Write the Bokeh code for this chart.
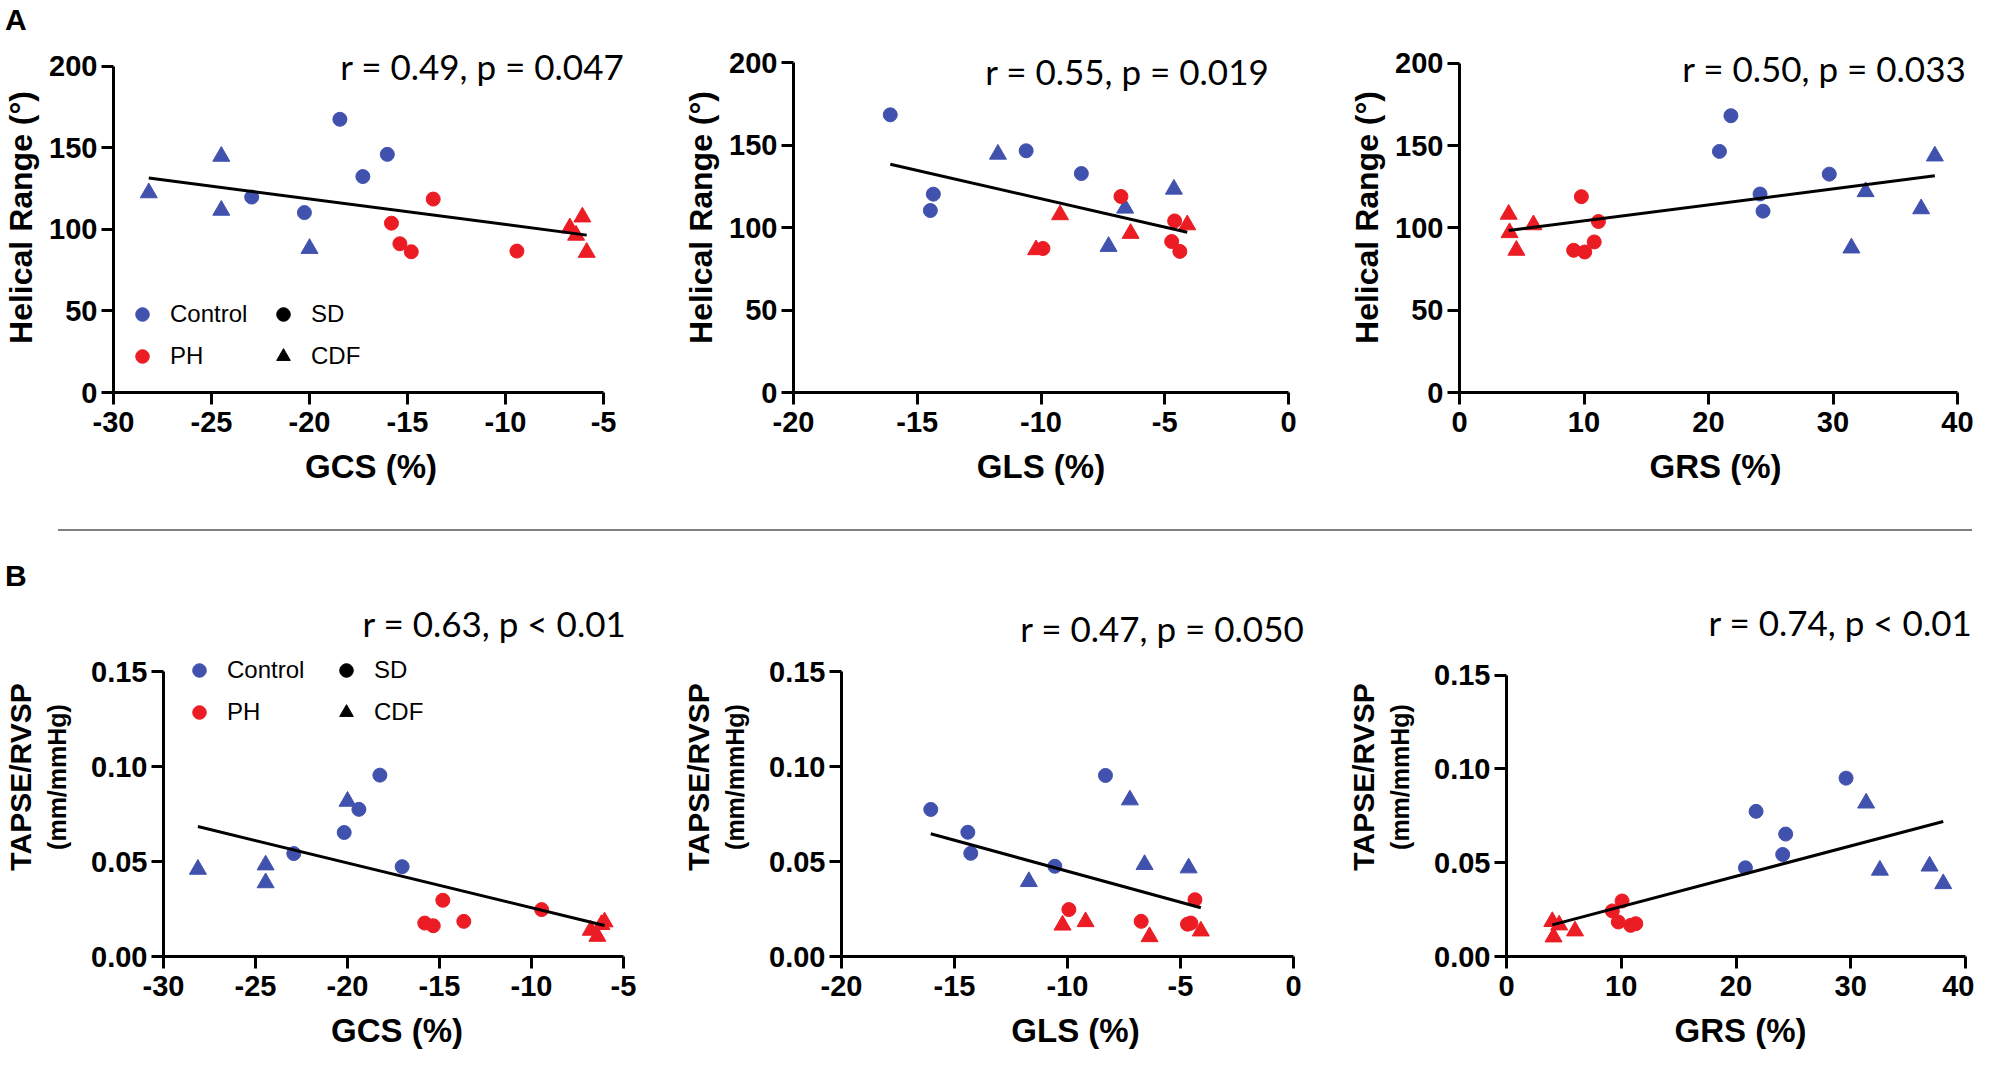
import numpy as np
from bokeh.plotting import figure
from bokeh.models import (Range1d, FixedTicker, Label, Legend, LegendItem, LinearAxis, Div)
from bokeh.layouts import column, row
from bokeh.embed import file_html
from bokeh.resources import INLINE

BLUE = "#4152AE"
RED = "#EC1C24"
AX_FONT = "Liberation Sans"
STAT_FONT = "Lato"

# ---------------- data ----------------
# Panel A1: GCS (%) vs Helical Range
gcs_hr_ctrl_sd_x = [-22.95, -20.26, -18.45, -17.28, -16.03]
gcs_hr_ctrl_sd_y = [119.8, 110.3, 167.5, 132.4, 146.0]
gcs_hr_ctrl_cdf_x = [-28.2, -24.5, -24.5, -20.0]
gcs_hr_ctrl_cdf_y = [122.4, 144.8, 111.7, 88.3]
gcs_hr_ph_sd_x = [-15.82, -15.39, -14.81, -13.69, -9.42]
gcs_hr_ph_sd_y = [103.8, 91.2, 86.3, 118.6, 86.7]
gcs_hr_ph_cdf_x = [-6.72, -6.08, -6.40, -5.86]
gcs_hr_ph_cdf_y = [100.9, 107.6, 96.4, 85.9]

# Panel A2: GLS (%) vs Helical Range
gls_hr_ctrl_sd_x = [-16.09, -14.35, -14.47, -10.60, -8.37]
gls_hr_ctrl_sd_y = [168.3, 120.2, 110.3, 146.5, 132.7]
gls_hr_ctrl_cdf_x = [-11.74, -6.60, -7.27, -4.63]
gls_hr_ctrl_cdf_y = [144.4, 111.7, 88.5, 123.2]
gls_hr_ph_sd_x = [-6.77, -9.92, -4.60, -4.72, -4.39]
gls_hr_ph_sd_y = [118.8, 87.3, 104.0, 91.5, 85.5]
gls_hr_ph_cdf_x = [-9.23, -6.38, -4.09, -10.20]
gls_hr_ph_cdf_y = [107.7, 96.4, 101.6, 86.5]

# Panel A3: GRS (%) vs Helical Range
grs_hr_ctrl_sd_x = [20.88, 21.80, 24.14, 24.38, 29.70]
grs_hr_ctrl_sd_y = [146.5, 168.2, 120.6, 110.2, 132.7]
grs_hr_ctrl_cdf_x = [31.48, 32.62, 37.08, 38.18]
grs_hr_ctrl_cdf_y = [87.8, 122.0, 111.6, 143.7]
grs_hr_ph_sd_x = [9.79, 9.17, 10.06, 10.82, 11.16]
grs_hr_ph_sd_y = [119.0, 86.4, 85.4, 91.5, 103.9]
grs_hr_ph_cdf_x = [3.95, 4.02, 4.57, 5.94]
grs_hr_ph_cdf_y = [108.3, 97.1, 86.4, 101.9]

# Panel B1: GCS (%) vs TAPSE/RVSP
gcs_tr_ctrl_sd_x = [-22.92, -20.18, -19.38, -18.24, -17.03]
gcs_tr_ctrl_sd_y = [0.0542, 0.0653, 0.0775, 0.0955, 0.0473]
gcs_tr_ctrl_cdf_x = [-28.13, -24.45, -24.45, -20.0]
gcs_tr_ctrl_cdf_y = [0.0459, 0.0482, 0.0388, 0.0817]
gcs_tr_ph_sd_x = [-14.82, -15.80, -15.34, -13.68, -9.45]
gcs_tr_ph_sd_y = [0.0296, 0.0176, 0.0162, 0.0185, 0.0247]
gcs_tr_ph_cdf_x = [-6.78, -6.42, -6.03, -6.20]
gcs_tr_ph_cdf_y = [0.0138, 0.0106, 0.0182, 0.0168]

# Panel B2: GLS (%) vs TAPSE/RVSP
gls_tr_ctrl_sd_x = [-16.05, -14.41, -14.28, -10.56, -8.32]
gls_tr_ctrl_sd_y = [0.0774, 0.0654, 0.0543, 0.0475, 0.0953]
gls_tr_ctrl_cdf_x = [-11.71, -7.24, -6.59, -4.64]
gls_tr_ctrl_cdf_y = [0.0394, 0.0824, 0.0484, 0.0466]
gls_tr_ph_sd_x = [-9.94, -6.74, -4.36, -4.69, -4.54]
gls_tr_ph_sd_y = [0.0247, 0.0185, 0.0299, 0.0170, 0.0176]
gls_tr_ph_cdf_x = [-10.22, -9.20, -6.37, -4.10]
gls_tr_ph_cdf_y = [0.0165, 0.0183, 0.0104, 0.0134]

# Panel B3: GRS (%) vs TAPSE/RVSP
grs_tr_ctrl_sd_x = [20.82, 21.75, 24.07, 24.33, 29.59]
grs_tr_ctrl_sd_y = [0.0473, 0.0774, 0.0544, 0.0653, 0.0951]
grs_tr_ctrl_cdf_x = [31.34, 32.54, 36.87, 38.06]
grs_tr_ctrl_cdf_y = [0.0818, 0.0460, 0.0482, 0.0388]
grs_tr_ph_sd_x = [9.22, 10.07, 9.74, 10.82, 11.27]
grs_tr_ph_sd_y = [0.0243, 0.0296, 0.0184, 0.0166, 0.0175]
grs_tr_ph_cdf_x = [3.99, 4.10, 4.59, 5.97]
grs_tr_ph_cdf_y = [0.0186, 0.0104, 0.0168, 0.0136]

stats = ["r = 0.49, p = 0.047", "r = 0.55, p = 0.019", "r = 0.50, p = 0.033",
         "r = 0.63, p < 0.01", "r = 0.47, p = 0.050", "r = 0.74, p < 0.01"]
x_titles = ["GCS (%)", "GLS (%)", "GRS (%)"]
x_ticks = [[-30, -25, -20, -15, -10, -5], [-20, -15, -10, -5, 0], [0, 10, 20, 30, 40]]
x_tick_labels = [["-30", "-25", "-20", "-15", "-10", "-5"], ["-20", "-15", "-10", "-5", "0"],
                 ["0", "10", "20", "30", "40"]]
hr_ticks = [0, 50, 100, 150, 200]
hr_tick_labels = ["0", "50", "100", "150", "200"]
tr_ticks = [0.0, 0.05, 0.10, 0.15]
tr_tick_labels = ["0.00", "0.05", "0.10", "0.15"]
legend_groups = ["Control", "PH"]
legend_shapes = ["SD", "CDF"]
panel_letters = ["A", "B"]


def lin(v0, v1, p0, p1, q):
    """value at pixel q when v0 sits at pixel p0 and v1 at pixel p1"""
    return v0 + (q - p0) * (v1 - v0) / (p1 - p0)


def make_panel(fig_x0, fig_y0, fig_w, fig_h, axes_box, xt, xtl, yt, ytl, xtitle,
               groups, stat, stat_anchor, ytitle, ytitle2=None, legend_at=None):
    al, at, ar, ab = axes_box           # page pixels of the axis ends
    sx, sy = stat_anchor
    fl, ft, fb = al, fig_y0, ab          # frame: extend up to fig top
    fr = min(max(ar, sx + 5), fig_x0 + fig_w)   # and right to hold the r/p text
    xr = (xt[0], lin(xt[0], xt[-1], al, ar, fr))
    yr = (yt[0], lin(yt[0], yt[-1], ab, at, ft))
    p = figure(width=fig_w, height=fig_h,
               min_border_left=fl - fig_x0, min_border_right=fig_x0 + fig_w - fr,
               min_border_top=ft - fig_y0, min_border_bottom=fig_y0 + fig_h - fb,
               x_range=Range1d(*xr), y_range=Range1d(*yr),
               output_backend="svg", toolbar_location=None)
    p.grid.visible = False
    p.outline_line_color = None

    for ax in (p.xaxis[0], p.yaxis[0]):
        ax.axis_line_width = 3
        ax.axis_line_color = "black"
        ax.major_tick_line_width = 3
        ax.major_tick_line_color = "black"
        ax.major_tick_out = 12
        ax.major_tick_in = 0
        ax.minor_tick_line_color = None
        ax.major_label_text_font = AX_FONT
        ax.major_label_text_font_style = "bold"
        ax.major_label_text_font_size = "29px"
        ax.major_label_text_color = "black"
        ax.axis_label_text_font = AX_FONT
        ax.axis_label_text_font_style = "bold"
        ax.axis_label_text_color = "black"
    p.xaxis[0].ticker = FixedTicker(ticks=xt)
    p.yaxis[0].ticker = FixedTicker(ticks=yt)
    p.xaxis[0].major_label_overrides = {t: s for t, s in zip(xt, xtl)}
    p.yaxis[0].major_label_overrides = {t: s for t, s in zip(yt, ytl)}
    p.xaxis[0].bounds = (xt[0], xt[-1])
    p.yaxis[0].bounds = (yt[0], yt[-1])
    p.xaxis[0].axis_label = xtitle
    p.xaxis[0].axis_label_text_font_size = "33px"
    p.xaxis[0].major_label_standoff = 7
    p.xaxis[0].axis_label_standoff = 13
    p.yaxis[0].major_label_standoff = 4
    if ytitle2 is None:
        p.yaxis[0].axis_label = ytitle
        p.yaxis[0].axis_label_text_font_size = "32px"
        p.yaxis[0].axis_label_standoff = 7
    else:
        p.yaxis[0].axis_label = ytitle2
        p.yaxis[0].axis_label_text_font_size = "25px"
        p.yaxis[0].axis_label_standoff = 17
        extra = LinearAxis(axis_label=ytitle, ticker=FixedTicker(ticks=[]),
                           bounds=(yt[0], yt[-1]),
                           axis_line_color=None, major_tick_line_color=None,
                           minor_tick_line_color=None, major_tick_out=0,
                           major_label_text_font_size="0px", major_label_standoff=0,
                           axis_label_standoff=4, axis_label_text_font=AX_FONT,
                           axis_label_text_font_style="bold",
                           axis_label_text_font_size="30px",
                           axis_label_text_color="black")
        p.add_layout(extra, "left")

    allx, ally = [], []
    for xs, ys, color, marker in groups:
        size = 14 if marker == "circle" else 17
        p.scatter(xs, ys, marker=marker, size=size, fill_color=color, line_color=color)
        allx += list(xs)
        ally += list(ys)
    allx = np.array(allx)
    ally = np.array(ally)
    m, c = np.polyfit(allx, ally, 1)
    fx = np.array([allx.min(), allx.max()])
    p.line(fx, m * fx + c, line_color="black", line_width=3)

    p.add_layout(Label(x=sx - fl, y=fb - sy, x_units="screen", y_units="screen",
                       text=stat, text_align="right", text_baseline="alphabetic",
                       text_font=STAT_FONT, text_font_size="35px", text_color="black"))

    if legend_at is not None:
        (c1x, c2x, row1y, row2y) = legend_at
        gh = 34
        spacing = (row2y - row1y) - gh
        nan = np.array([np.nan])
        rc = p.scatter(nan, nan, marker="circle", size=14, color=BLUE)
        rp = p.scatter(nan, nan, marker="circle", size=14, color=RED)
        rs = p.scatter(nan, nan, marker="circle", size=14, color="black")
        rt = p.scatter(nan, nan, marker="triangle", size=14, color="black")
        for xcen, items in ((c1x, [(legend_groups[0], rc), (legend_groups[1], rp)]),
                            (c2x, [(legend_shapes[0], rs), (legend_shapes[1], rt)])):
            leg = Legend(items=[LegendItem(label=lab, renderers=[rr]) for lab, rr in items],
                         location=(xcen - gh // 2 - fl, fb - row2y - gh // 2),
                         glyph_width=gh, glyph_height=gh, label_height=gh,
                         spacing=spacing, padding=0, margin=0, label_standoff=11,
                         label_text_font=AX_FONT, label_text_font_size="24px",
                         label_text_color="black",
                         border_line_color=None, background_fill_alpha=0)
            p.add_layout(leg)
    return p


def grp(a, b_, c, d, e, f, g, h):
    return [(a, b_, BLUE, "circle"), (c, d, BLUE, "triangle"),
            (e, f, RED, "circle"), (g, h, RED, "triangle")]


# page geometry (pixels)
TOP_Y0, TOP_H = 40, 475
MID_Y0, MID_H = 515, 70
BOT_Y0, BOT_H = 585, 473
COLS = [(8, 652), (660, 660), (1320, 662)]

a1 = make_panel(COLS[0][0], TOP_Y0, COLS[0][1], TOP_H, (120, 64, 611, 393),
                x_ticks[0], x_tick_labels[0], hr_ticks, hr_tick_labels, x_titles[0],
                grp(gcs_hr_ctrl_sd_x, gcs_hr_ctrl_sd_y, gcs_hr_ctrl_cdf_x, gcs_hr_ctrl_cdf_y,
                    gcs_hr_ph_sd_x, gcs_hr_ph_sd_y, gcs_hr_ph_cdf_x, gcs_hr_ph_cdf_y),
                stats[0], (631, 66), "Helical Range (°)",
                legend_at=(149, 290, 315, 357))
a2 = make_panel(COLS[1][0], TOP_Y0, COLS[1][1], TOP_H, (801, 60, 1296, 390),
                x_ticks[1], x_tick_labels[1], hr_ticks, hr_tick_labels, x_titles[1],
                grp(gls_hr_ctrl_sd_x, gls_hr_ctrl_sd_y, gls_hr_ctrl_cdf_x, gls_hr_ctrl_cdf_y,
                    gls_hr_ph_sd_x, gls_hr_ph_sd_y, gls_hr_ph_cdf_x, gls_hr_ph_cdf_y),
                stats[1], (1277, 68), "Helical Range (°)")
a3 = make_panel(COLS[2][0], TOP_Y0, COLS[2][1], TOP_H, (1467, 61, 1965, 392),
                x_ticks[2], x_tick_labels[2], hr_ticks, hr_tick_labels, x_titles[2],
                grp(grs_hr_ctrl_sd_x, grs_hr_ctrl_sd_y, grs_hr_ctrl_cdf_x, grs_hr_ctrl_cdf_y,
                    grs_hr_ph_sd_x, grs_hr_ph_sd_y, grs_hr_ph_cdf_x, grs_hr_ph_cdf_y),
                stats[2], (1974, 67), "Helical Range (°)")

b1 = make_panel(COLS[0][0], BOT_Y0, COLS[0][1], BOT_H, (170, 660, 631, 948),
                x_ticks[0], x_tick_labels[0], tr_ticks, tr_tick_labels, x_titles[0],
                grp(gcs_tr_ctrl_sd_x, gcs_tr_ctrl_sd_y, gcs_tr_ctrl_cdf_x, gcs_tr_ctrl_cdf_y,
                    gcs_tr_ph_sd_x, gcs_tr_ph_sd_y, gcs_tr_ph_cdf_x, gcs_tr_ph_cdf_y),
                stats[3], (633, 614), "TAPSE/RVSP", ytitle2="(mm/mmHg)",
                legend_at=(206, 353, 662, 704))
b2 = make_panel(COLS[1][0], BOT_Y0, COLS[1][1], BOT_H, (849, 659, 1301, 944),
                x_ticks[1], x_tick_labels[1], tr_ticks, tr_tick_labels, x_titles[1],
                grp(gls_tr_ctrl_sd_x, gls_tr_ctrl_sd_y, gls_tr_ctrl_cdf_x, gls_tr_ctrl_cdf_y,
                    gls_tr_ph_sd_x, gls_tr_ph_sd_y, gls_tr_ph_cdf_x, gls_tr_ph_cdf_y),
                stats[4], (1312, 615), "TAPSE/RVSP", ytitle2="(mm/mmHg)")
b3 = make_panel(COLS[2][0], BOT_Y0, COLS[2][1], BOT_H, (1514, 664, 1973, 950),
                x_ticks[2], x_tick_labels[2], tr_ticks, tr_tick_labels, x_titles[2],
                grp(grs_tr_ctrl_sd_x, grs_tr_ctrl_sd_y, grs_tr_ctrl_cdf_x, grs_tr_ctrl_cdf_y,
                    grs_tr_ph_sd_x, grs_tr_ph_sd_y, grs_tr_ph_cdf_x, grs_tr_ph_cdf_y),
                stats[5], (1980, 615), "TAPSE/RVSP", ytitle2="(mm/mmHg)")

LETTER_CSS = ("font-family:'Liberation Sans';font-weight:bold;font-size:30px;"
              "line-height:30px;color:black;")
top_div = Div(width=1974, height=TOP_Y0 - 8,
              text=f'<div style="{LETTER_CSS}margin:0">{panel_letters[0]}</div>')
mid_div = Div(width=1974, height=MID_H,
              text='<div style="margin-left:53px;margin-top:7px;width:1914px;height:2px;'
                   'background:#808080"></div>'
                   f'<div style="{LETTER_CSS}margin-top:30px">{panel_letters[1]}</div>')

layout = column(top_div, row(a1, a2, a3), mid_div, row(b1, b2, b3))
open("out.html", "w").write(file_html(layout, INLINE))
